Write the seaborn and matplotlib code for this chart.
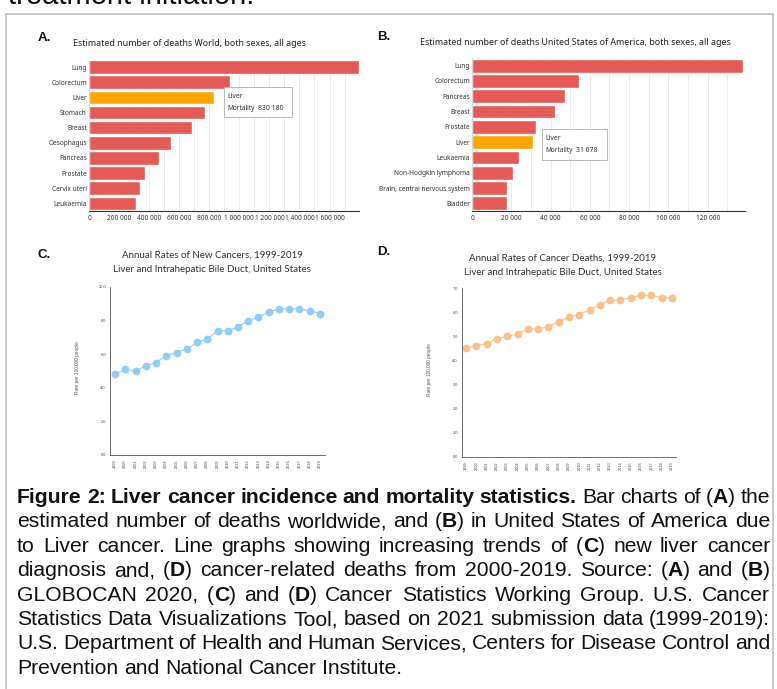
import seaborn as sns
import numpy as np
import pandas as pd
import matplotlib.pyplot as plt
from matplotlib.patches import Rectangle
from matplotlib.ticker import FuncFormatter, MultipleLocator, FormatStrFormatter

W, H = 777, 689

# data
world_sites = ['Lung', 'Colorectum', 'Liver', 'Stomach', 'Breast', 'Oesophagus',
               'Pancreas', 'Prostate', 'Cervix uteri', 'Leukaemia']
world_deaths = [1796144, 935173, 830180, 768793, 684996, 544076, 466003, 375304, 341831, 311594]

us_sites = ['Lung', 'Colorectum', 'Pancreas', 'Breast', 'Prostate', 'Liver', 'Leukaemia',
            'Non-Hodgkin lymphoma', 'Brain, central nervous system', 'Bladder']
us_deaths = [137900, 54400, 47600, 42500, 32400, 31078, 23700, 20900, 18000, 17900]

years = list(range(1999, 2020))
new_rates = [4.8, 5.1, 5.0, 5.3, 5.5, 5.9, 6.1, 6.3, 6.7, 6.9, 7.4, 7.4, 7.6, 8.0, 8.2,
             8.5, 8.7, 8.7, 8.7, 8.6, 8.4]
death_rates = [4.5, 4.6, 4.7, 4.9, 5.0, 5.1, 5.3, 5.3, 5.4, 5.6, 5.8, 5.9, 6.1, 6.3, 6.5,
               6.5, 6.6, 6.7, 6.7, 6.6, 6.6]

caption = [
    "**Figure 2: Liver cancer incidence and mortality statistics.** Bar charts of (**A**) the",
    "estimated number of deaths worldwide, and (**B**) in United States of America due",
    "to Liver cancer. Line graphs showing increasing trends of (**C**) new liver cancer",
    "diagnosis and, (**D**) cancer-related deaths from 2000-2019. Source: (**A**) and (**B**)",
    "GLOBOCAN 2020, (**C**) and (**D**) Cancer Statistics Working Group. U.S. Cancer",
    "Statistics Data Visualizations Tool, based on 2021 submission data (1999-2019):",
    "U.S. Department of Health and Human Services, Centers for Disease Control and",
    "Prevention and National Cancer Institute.",
]

RED = '#e35a56'
ORANGE = '#ffa500'
BLUE = '#8fcdf4'
PEACH = '#f9c087'

sns.set_theme(style='white')
plt.rcParams['font.family'] = ['Noto Sans', 'DejaVu Sans']

fig = plt.figure(figsize=(W / 100, H / 100), dpi=100)


def fx(x):
    return x / W


def fy(y):
    return 1 - y / H


def box(left, top, right, bottom):
    return [fx(left), fy(bottom), (right - left) / W, (bottom - top) / H]


# frame around the figure
fig.patches.append(Rectangle((fx(5.5), fy(H + 5)), fx(772.5) - fx(5.5), fy(13.5) - fy(H + 5),
                             transform=fig.transFigure, fill=False, edgecolor='#c4c4c4', lw=1.3))
# heading of the page above, cut by the crop
fig.text(fx(8), fy(4.5), 'treatment initiation.', fontsize=21, family='Liberation Sans',
         va='baseline', ha='left', color='#111')


def bar_panel(rect, sites, deaths, xmax, tick_step, grid_step):
    ax = fig.add_axes(box(*rect))
    df = pd.DataFrame({'site': sites, 'deaths': deaths})
    colors = [ORANGE if s == 'Liver' else RED for s in sites]
    sns.barplot(data=df, x='deaths', y='site', hue='site', palette=colors, legend=False,
                width=0.9, saturation=1, orient='h', ax=ax)
    ax.set_xlim(0, xmax)
    ax.set_ylim(9.5, -0.5)
    ax.xaxis.set_major_locator(MultipleLocator(tick_step))
    ax.xaxis.set_minor_locator(MultipleLocator(grid_step))
    ax.xaxis.set_major_formatter(FuncFormatter(lambda v, p: f"{int(v):,}".replace(',', ' ')))
    ax.grid(axis='x', which='both', color='#e6e6e6', lw=0.6)
    ax.set_axisbelow(True)
    ax.tick_params(axis='both', length=0, labelsize=4.7, colors='#333', pad=1.5)
    ax.tick_params(axis='x', pad=3)
    for s in ['top', 'right']:
        ax.spines[s].set_visible(False)
    ax.spines['left'].set_color('#d0d0d0')
    ax.spines['left'].set_linewidth(0.6)
    ax.spines['bottom'].set_color('#333')
    ax.spines['bottom'].set_linewidth(0.8)
    ax.set_xlabel('')
    ax.set_ylabel('')
    return ax


def tooltip(left, top, right, bottom, value):
    fig.patches.append(Rectangle((fx(left), fy(bottom)), fx(right) - fx(left), fy(top) - fy(bottom),
                                 transform=fig.transFigure, facecolor='white',
                                 edgecolor='#b8b8b8', lw=0.7, zorder=5))
    fig.text(fx(left + 3.5), fy(top + 9), 'Liver', fontsize=4.9, weight='bold', color='#333',
             va='center', zorder=6)
    fig.text(fx(left + 3.5), fy(top + 21.5), 'Mortality', fontsize=4.7, color='#333',
             va='center', zorder=6)
    fig.text(fx(left + 34.5), fy(top + 21.5), value, fontsize=4.9, weight='bold', color='#333',
             va='center', zorder=6)


bar_panel((89, 59.5, 359, 211), world_sites, world_deaths, 1796144, 200000, 100000)
bar_panel((472, 58, 745, 211), us_sites, us_deaths, 139000, 20000, 10000)
tooltip(224, 87, 292, 117, '830 180')
tooltip(542, 129, 607, 160, '31 078')

fig.text(fx(73), fy(44), 'Estimated number of deaths World, both sexes, all ages',
         fontsize=6.4, color='#222', va='center')
fig.text(fx(575), fy(42.5), 'Estimated number of deaths United States of America, both sexes, all ages',
         fontsize=6.4, color='#222', va='center', ha='center')


def line_panel(rect, xlim, rates, color, ymax, ystep, ylab_x):
    ax = fig.add_axes(box(*rect))
    sns.lineplot(x=years, y=rates, color=color, marker='o', markersize=5.6,
                 markeredgewidth=0, linewidth=0.8, ax=ax)
    ax.set_xlim(*xlim)
    ax.set_ylim(0, ymax)
    ax.set_xticks(years)
    ax.set_xticklabels([str(y) for y in years], rotation=90)
    ax.yaxis.set_major_locator(MultipleLocator(ystep))
    ax.yaxis.set_major_formatter(FormatStrFormatter('%.1f'))
    ax.tick_params(axis='both', length=2, width=0.5, labelsize=2.8, colors='#444', pad=1,
                   direction='out')
    for s in ['top', 'right']:
        ax.spines[s].set_visible(False)
    for s in ['left', 'bottom']:
        ax.spines[s].set_color('#555')
        ax.spines[s].set_linewidth(0.6)
    for lab in ax.get_xticklabels() + ax.get_yticklabels():
        lab.set_family('Liberation Sans')
    ax.set_xlabel('')
    ax.set_ylabel('')
    cy = (rect[1] + rect[3]) / 2
    fig.text(fx(ylab_x), fy(cy - 3), 'Rate per 100,000 people', rotation=90, fontsize=3.4,
             color='#555', ha='center', va='center', family='Liberation Sans')
    return ax


line_panel((110, 287, 325, 455), (1998.51, 2019.49), new_rates, BLUE, 10, 2, 77)
line_panel((462, 288, 676, 457), (1998.61, 2019.39), death_rates, PEACH, 7, 1, 429)

fig.text(fx(212), fy(255), 'Annual Rates of New Cancers, 1999-2019', fontsize=7, family='Lato',
         color='#333', ha='center', va='center')
fig.text(fx(212), fy(270), 'Liver and Intrahepatic Bile Duct, United States', fontsize=7,
         family='Lato', color='#333', ha='center', va='center')
fig.text(fx(563), fy(258), 'Annual Rates of Cancer Deaths, 1999-2019', fontsize=7, family='Lato',
         color='#333', ha='center', va='center')
fig.text(fx(563), fy(272.5), 'Liver and Intrahepatic Bile Duct, United States', fontsize=7,
         family='Lato', color='#333', ha='center', va='center')

for lab, x, y in [('A.', 38, 38), ('B.', 377, 37.5), ('C.', 38, 255), ('D.', 377, 252)]:
    fig.text(fx(x), fy(y), lab, fontsize=9.5, weight='bold', family='Liberation Sans',
             va='center', color='#111')


# justified caption
def parse(line):
    words, cur, text, bold, i = [], [], '', False, 0
    while i < len(line):
        if line.startswith('**', i):
            if text:
                cur.append((text, bold))
                text = ''
            bold = not bold
            i += 2
            continue
        ch = line[i]
        if ch == ' ':
            if text:
                cur.append((text, bold))
                text = ''
            if cur:
                words.append(cur)
                cur = []
        else:
            text += ch
        i += 1
    if text:
        cur.append((text, bold))
    if cur:
        words.append(cur)
    return words


renderer = fig.canvas.get_renderer()
CAP_SIZE = 15.2
LEFT, RIGHT = 17, 770
base0, step = 503, 24.4
space_px = CAP_SIZE / 72 * 100 * 0.278


def measure(s, bold):
    # advance-like width: ink of s+'x' minus ink of 'x'
    w = 'bold' if bold else 'normal'
    a = fig.text(0, 0, s + 'x', fontsize=CAP_SIZE, family='Liberation Sans', weight=w)
    b = fig.text(0, 0, 'x', fontsize=CAP_SIZE, family='Liberation Sans', weight=w)
    d = a.get_window_extent(renderer).width - b.get_window_extent(renderer).width
    a.remove()
    b.remove()
    return d


for n, line in enumerate(caption):
    words = parse(line)
    placed = []
    widths = []
    for w in words:
        arts = []
        wsum = 0
        for txt, bold in w:
            t = fig.text(0, 0, txt, fontsize=CAP_SIZE, family='Liberation Sans',
                         weight='bold' if bold else 'normal', color='#111', va='baseline')
            wd = measure(txt, bold)
            arts.append((t, wd))
            wsum += wd
        placed.append(arts)
        widths.append(wsum)
    last = n == len(caption) - 1
    if last:
        gap = space_px
    else:
        gap = (RIGHT - LEFT - sum(widths)) / (len(words) - 1)
    x = LEFT
    y = base0 + n * step
    for arts, wsum in zip(placed, widths):
        xx = x
        for t, wd in arts:
            t.set_position((fx(xx), fy(y)))
            xx += wd
        x += wsum + gap

fig.savefig('out.png', dpi=100)
